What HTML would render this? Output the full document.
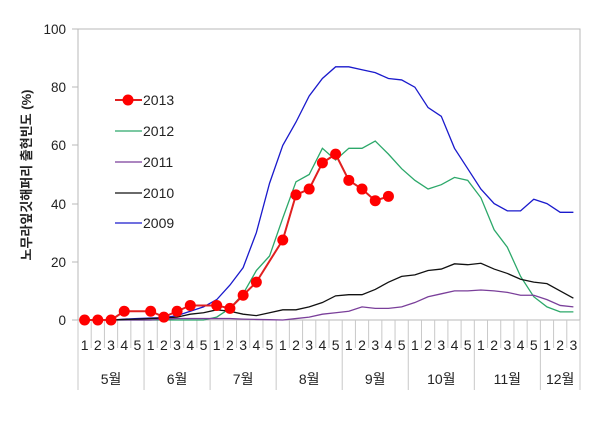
<!DOCTYPE html>
<html><head><meta charset="utf-8"><style>
html,body{margin:0;padding:0;background:#fff;}
svg text{font-family:"Liberation Sans","Noto Sans CJK KR",sans-serif;}
</style></head><body>
<svg id="s" width="601" height="432" viewBox="0 0 601 432" xmlns="http://www.w3.org/2000/svg">
<rect x="78" y="29" width="502" height="291" fill="none" stroke="#b8b8b8" stroke-width="1"/>
<g font-size="13.5" fill="#222" text-anchor="end">
<text x="66" y="325">0</text><text x="66" y="267">20</text><text x="66" y="209">40</text>
<text x="66" y="150">60</text><text x="66" y="92">80</text><text x="66" y="34">100</text>
</g>
<g stroke="#b8b8b8"><line x1="72" y1="320" x2="78" y2="320"/><line x1="72" y1="262" x2="78" y2="262"/><line x1="72" y1="204" x2="78" y2="204"/><line x1="72" y1="145" x2="78" y2="145"/><line x1="72" y1="87" x2="78" y2="87"/><line x1="72" y1="29" x2="78" y2="29"/></g>
<text transform="translate(31,175) rotate(-90)" font-size="13" font-weight="bold" text-anchor="middle" fill="#222">노무라잎깃해퍼리 출현빈도 (%)</text>
<g id="ax"></g>
<g id="series"></g>
<g font-size="14" fill="#222">
<line x1="115" y1="100" x2="142" y2="100" stroke="#e02020" stroke-width="2"/><circle cx="128" cy="100" r="5.5" fill="#f00"/><text x="143" y="105">2013</text>
<line x1="115" y1="131" x2="142" y2="131" stroke="#2ca86a" stroke-width="1.3"/><text x="143" y="136">2012</text>
<line x1="115" y1="162" x2="142" y2="162" stroke="#7a3f9a" stroke-width="1.3"/><text x="143" y="167">2011</text>
<line x1="115" y1="193" x2="142" y2="193" stroke="#111" stroke-width="1.3"/><text x="143" y="198">2010</text>
<line x1="115" y1="223" x2="142" y2="223" stroke="#1a1acc" stroke-width="1.3"/><text x="143" y="228">2009</text>
</g>
</svg>
<script>
var NS="http://www.w3.org/2000/svg",step=502/38;
function X(i){return 78+step*(i+0.5);} function Y(v){return 320-2.91*v;}
function el(t,a,p){var e=document.createElementNS(NS,t);for(var k in a)e.setAttribute(k,a[k]);p.appendChild(e);return e;}
var ax=document.getElementById('ax');
var labs=[1,2,3,4,5,1,2,3,4,5,1,2,3,4,5,1,2,3,4,5,1,2,3,4,5,1,2,3,4,5,1,2,3,4,5,1,2,3];
for(var i=0;i<=38;i++){var x=78+step*i;var mb=(i%5==0)||i==38;el('line',{x1:x,y1:320,x2:x,y2:mb?390:348,stroke:'#c8c8c8'},ax);}
labs.forEach(function(l,i){var t=el('text',{x:X(i),y:350,'font-size':14,'text-anchor':'middle',fill:'#222'},ax);t.textContent=l;});
var months=['5월','6월','7월','8월','9월','10월','11월','12월'];
months.forEach(function(m,k){var a=78+step*5*k,b=Math.min(580,a+step*5);var t=el('text',{x:(a+b)/2,y:384,'font-size':14,'text-anchor':'middle',fill:'#222'},ax);t.textContent=m;});
var g=document.getElementById('series');
function line(d,c,w){var p=d.map(function(q){return X(q[0])+','+Y(q[1]);}).join(' ');el('polyline',{points:p,fill:'none',stroke:c,'stroke-width':w},g);}
function arr(start,vals){return vals.map(function(v,k){return [start+k,v];});}
line(arr(2,[0,0.3,0.5,0.7,0.8,1.5,3,4.5,7,12,18,30,47,60,68,77,83,87,87,86,85,83,82.5,80,73,70,59,52,45,40,37.5,37.5,41.5,40,37,37]),'#1a1acc',1.3);
line(arr(2,[0,0,0,0,0,0,0,0,1,4,9,17,22,35,47.5,50,59,55,59,59,61.5,57,52,48,45,46.5,49,48,42,31,25,15,8,4.5,2.8,2.8]),'#2ca86a',1.3);
line(arr(2,[0,0,0,0,0.3,0.5,0.5,0.5,0.5,0.5,0.3,0.2,0.1,0,0.5,1,2,2.5,3,4.5,4,4,4.5,6,8,9,10,10,10.3,10,9.5,8.5,8.5,7,5,4.5]),'#7a3f9a',1.3);
line(arr(2,[0,0.2,0.3,0.5,0.7,1,2,2.5,3.5,3,2,1.5,2.5,3.5,3.5,4.5,6,8.3,8.7,8.7,10.5,13,15,15.5,17,17.5,19.3,19,19.5,17.5,16,14,13,12.5,10,7.5]),'#111',1.3);
var red=[[0,0],[1,0],[2,0],[3,3],[5,3],[6,1],[7,3],[8,5],[10,5],[11,4],[12,8.5],[13,13],[15,27.5],[16,43],[17,45],[18,54],[19,57],[20,48],[21,45],[22,41],[23,42.5]];
line(red,'#e02020',2);
red.forEach(function(q){el('circle',{cx:X(q[0]),cy:Y(q[1]),r:5.5,fill:'#f00'},g);});
</script>
</body></html>
